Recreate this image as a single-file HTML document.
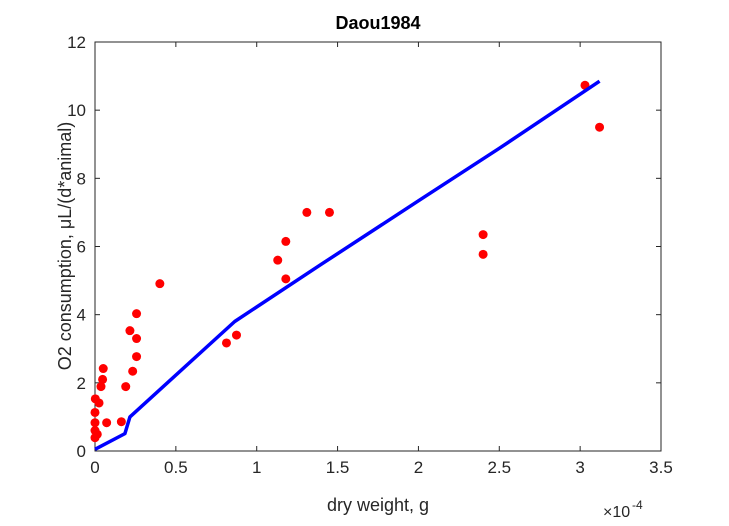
<!DOCTYPE html>
<html><head><meta charset="utf-8"><style>
body{margin:0;background:#fff;font-family:"Liberation Sans",sans-serif}
svg text{font-family:"Liberation Sans",sans-serif;fill:#262626}
</style></head><body>
<svg width="729" height="521" id="c">
<rect x="0" y="0" width="729" height="521" fill="#fff"/>
<g id="g"></g>
</svg>
<script>
const pointsX=[0.401,0.257,0.216,0.257,0.257,0.233,0.19,0.163,0.072,0.051,0.047,0.037,0.002,0.025,0,0,0,0.014,0,0.813,0.875,1.13,1.18,1.18,1.31,1.45,2.4,2.4,3.03,3.12];
const pointsY=[4.91,4.03,3.53,3.30,2.77,2.34,1.89,0.86,0.83,2.42,2.10,1.89,1.53,1.41,1.13,0.83,0.6,0.49,0.39,3.17,3.40,5.6,5.05,6.15,7.0,7.0,6.35,5.77,10.73,9.5];
const lineX=[0,0.185,0.216,0.864,1.4,2.0,2.5,3.12];
const lineY=[0.05,0.51,1.0,3.8,5.48,7.34,8.88,10.85];
const xTicks=[0,0.5,1,1.5,2,2.5,3,3.5];
const xTickLabels=["0","0.5","1","1.5","2","2.5","3","3.5"];
const yTicks=[0,2,4,6,8,10,12];
const yTickLabels=["0","2","4","6","8","10","12"];
const L=95,R=661,T=42,B=451;
const sx=v=>L+(v/3.5)*(R-L), sy=v=>B-(v/12)*(B-T);
const ns="http://www.w3.org/2000/svg", g=document.getElementById('g');
function mk(t,a,txt){const e=document.createElementNS(ns,t);for(const k in a)e.setAttribute(k,a[k]);if(txt!==undefined)e.textContent=txt;g.appendChild(e);return e;}
let e=mk('rect',{x:L,y:T,width:R-L,height:B-T,fill:'#fff',stroke:'#262626','stroke-width':1});

xTicks.forEach((v,i)=>{
 let t=mk('line',{x1:sx(v),x2:sx(v),y1:B,y2:B-5,stroke:'#262626'});
 t=mk('line',{x1:sx(v),x2:sx(v),y1:T,y2:T+5,stroke:'#262626'});
 let l=mk('text',{x:sx(v),y:B+22,'text-anchor':'middle','font-size':17},xTickLabels[i]);
});
yTicks.forEach((v,i)=>{
 let t=mk('line',{x1:L,x2:L+5,y1:sy(v),y2:sy(v),stroke:'#262626'});
 t=mk('line',{x1:R,x2:R-5,y1:sy(v),y2:sy(v),stroke:'#262626'});
 let l=mk('text',{x:L-9,y:sy(v)+6,'text-anchor':'end','font-size':17},yTickLabels[i]);
});
pointsX.forEach((v,i)=>{
 let c=mk('circle',{cx:sx(v),cy:sy(pointsY[i]),r:4.5,fill:'#ff0000'});
});
let p=mk('polyline',{points:lineX.map((v,i)=>sx(v)+','+sy(lineY[i])).join(' '),fill:'none',stroke:'#0000ff','stroke-width':3.5,'stroke-linejoin':'round'});

let t=mk('text',{x:378,y:29,'text-anchor':'middle','font-size':18,'font-weight':'bold',style:'fill:#000'},'Daou1984');
t=mk('text',{x:378,y:511,'text-anchor':'middle','font-size':18},'dry weight, g');
t=mk('text',{x:0,y:0,'text-anchor':'middle','font-size':18,transform:'translate(71,246) rotate(-90)'},'O2 consumption, μL/(d*animal)');
t=mk('text',{x:603,y:517,'font-size':16},'×10');
t=mk('text',{x:632,y:509,'font-size':12},'-4');
</script>
</body></html>
